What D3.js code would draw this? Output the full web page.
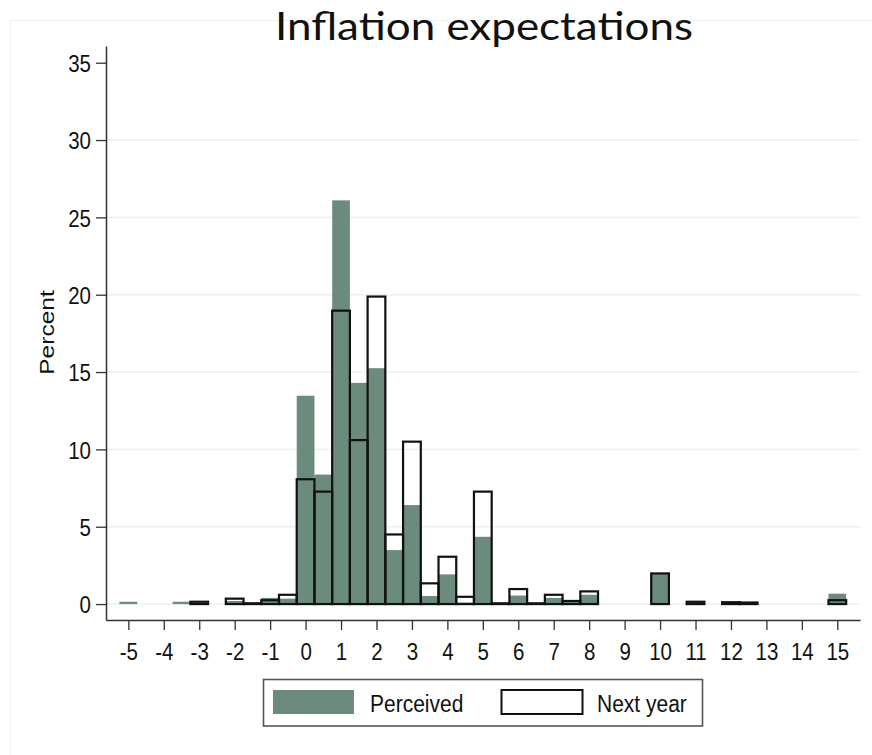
<!DOCTYPE html>
<html>
<head>
<meta charset="utf-8">
<script src="https://cdn.jsdelivr.net/npm/d3@7"></script>
<style>
  html, body { margin: 0; padding: 0; background: #fff; }
  svg { display: block; }
  text { font-family: "Liberation Sans", Arial, sans-serif; fill: #111; }
</style>
</head>
<body>
<svg id="chart" width="872" height="755"></svg>
<script>
// ---- data (bin centres, bin width 0.5) ----
const bins      = [-5, -3.5, -3, -2, -1.5, -1, -0.5, 0, 0.5, 1, 1.5, 2, 2.5, 3, 3.5, 4, 4.5, 5, 5.5, 6, 6.5, 7, 7.5, 8, 10, 11, 12, 12.5, 15];
const perceived = [0.15, 0.15, 0, 0.2, 0.05, 0.4, 0.35, 13.47, 8.37, 26.1, 14.3, 15.25, 3.49, 6.4, 0.52, 1.92, 0.1, 4.35, 0.05, 0.55, 0.05, 0.4, 0.15, 0.6, 1.95, 0.1, 0.1, 0.1, 0.67];
const nextYear  = [0, 0, 0.15, 0.35, 0.05, 0.25, 0.6, 8.07, 7.27, 18.97, 10.6, 19.88, 4.5, 10.5, 1.34, 3.06, 0.47, 7.27, 0.05, 0.97, 0.05, 0.6, 0.2, 0.82, 1.98, 0.15, 0.12, 0.1, 0.25];
const binWidth  = 0.5;
const xTicks    = [-5, -4, -3, -2, -1, 0, 1, 2, 3, 4, 5, 6, 7, 8, 9, 10, 11, 12, 13, 14, 15];
const yTicks    = [0, 5, 10, 15, 20, 25, 30, 35];
const gridTicks = [0, 5, 10, 15, 20, 25, 30];
const seriesNames = ["Perceived", "Next year"];
const title = "Inflation expectations";
const yTitle = "Percent";

const green = "#6b8b7d";
const svg = d3.select("#chart");

// faint outer graph-region border
svg.append("rect").attr("x", 10.5).attr("y", 20.5).attr("width", 900).attr("height", 800)
  .attr("fill", "none").attr("stroke", "#f1f1f1").attr("stroke-width", 1);

const x = d3.scaleLinear().domain([-5.63, 15.64]).range([106, 860]);
const y = d3.scaleLinear().domain([-1.03, 36.08]).range([620, 46]);

// grid
svg.append("g").selectAll("line").data(gridTicks).join("line")
  .attr("x1", 106).attr("x2", 860)
  .attr("y1", d => y(d)).attr("y2", d => y(d))
  .attr("stroke", "#e8f0f2").attr("stroke-width", 1.5);

const data = bins.map((b, i) => ({ b, p: perceived[i], n: nextYear[i] }));

// perceived bars (filled)
svg.append("g").selectAll("rect").data(data.filter(d => d.p > 0)).join("rect")
  .attr("x", d => x(d.b - binWidth / 2))
  .attr("width", d => x(d.b + binWidth / 2) - x(d.b - binWidth / 2))
  .attr("y", d => y(d.p))
  .attr("height", d => y(0) - y(d.p))
  .attr("fill", green);

// next-year bars (outline)
svg.append("g").selectAll("rect").data(data.filter(d => d.n > 0)).join("rect")
  .attr("x", d => x(d.b - binWidth / 2))
  .attr("width", d => x(d.b + binWidth / 2) - x(d.b - binWidth / 2))
  .attr("y", d => y(d.n))
  .attr("height", d => y(0) - y(d.n))
  .attr("fill", "none").attr("stroke", "#111").attr("stroke-width", 2.2);

const fmt = d => String(d);

// x axis
const xa = svg.append("g").attr("transform", "translate(0,620)")
  .call(d3.axisBottom(x).tickValues(xTicks).tickFormat(fmt).tickSize(10).tickSizeOuter(0));
xa.select(".domain").attr("stroke", "#333").attr("stroke-width", 1.5);
xa.selectAll(".tick line").attr("stroke", "#333").attr("stroke-width", 1.3);
xa.selectAll(".tick text")
  .attr("y", 40 / 1.18).attr("dy", 0)
  .attr("transform", "scale(1,1.18)")
  .style("font-size", "20.5px").style("font-family", "'Liberation Sans', Arial, sans-serif").attr("fill", "#111");

// y axis
const ya = svg.append("g").attr("transform", "translate(106,0)")
  .call(d3.axisLeft(y).tickValues(yTicks).tickFormat(fmt).tickSize(10).tickSizeOuter(0));
ya.select(".domain").attr("stroke", "#333").attr("stroke-width", 1.5);
ya.selectAll(".tick line").attr("stroke", "#333").attr("stroke-width", 1.3);
ya.selectAll(".tick text")
  .attr("x", -15).attr("dy", "0.36em")
  .attr("transform", "scale(1,1.18)")
  .style("font-size", "20.5px").style("font-family", "'Liberation Sans', Arial, sans-serif").attr("fill", "#111");

// y title
svg.append("text")
  .attr("transform", "translate(53.5,332.5) rotate(-90) scale(1.17,1)")
  .attr("text-anchor", "middle")
  .style("font-size", "21px")
  .text(yTitle);

// title
svg.append("text")
  .attr("x", 275).attr("y", 40)
  .attr("textLength", 418).attr("lengthAdjust", "spacingAndGlyphs")
  .style("font-family", "Lato, 'Open Sans', sans-serif")
  .style("font-size", "38px").attr("fill", "#000")
  .text(title);

// legend
const lg = svg.append("g");
lg.append("rect").attr("x", 263.5).attr("y", 679.5).attr("width", 439).attr("height", 46.5)
  .attr("fill", "#fff").attr("stroke", "#555").attr("stroke-width", 1.6);
const items = [
  { name: seriesNames[0], sx: 273, tx: 370, fill: green, stroke: "none" },
  { name: seriesNames[1], sx: 501.5, tx: 597, fill: "#fff", stroke: "#111" }
];
items.forEach(it => {
  lg.append("rect").attr("x", it.sx).attr("y", 690).attr("width", 81).attr("height", 24)
    .attr("fill", it.fill).attr("stroke", it.stroke).attr("stroke-width", 2);
  lg.append("text").attr("transform", `translate(${it.tx},711.5) scale(1,1.1)`)
    .style("font-size", "21px").text(it.name);
});
</script>
</body>
</html>
